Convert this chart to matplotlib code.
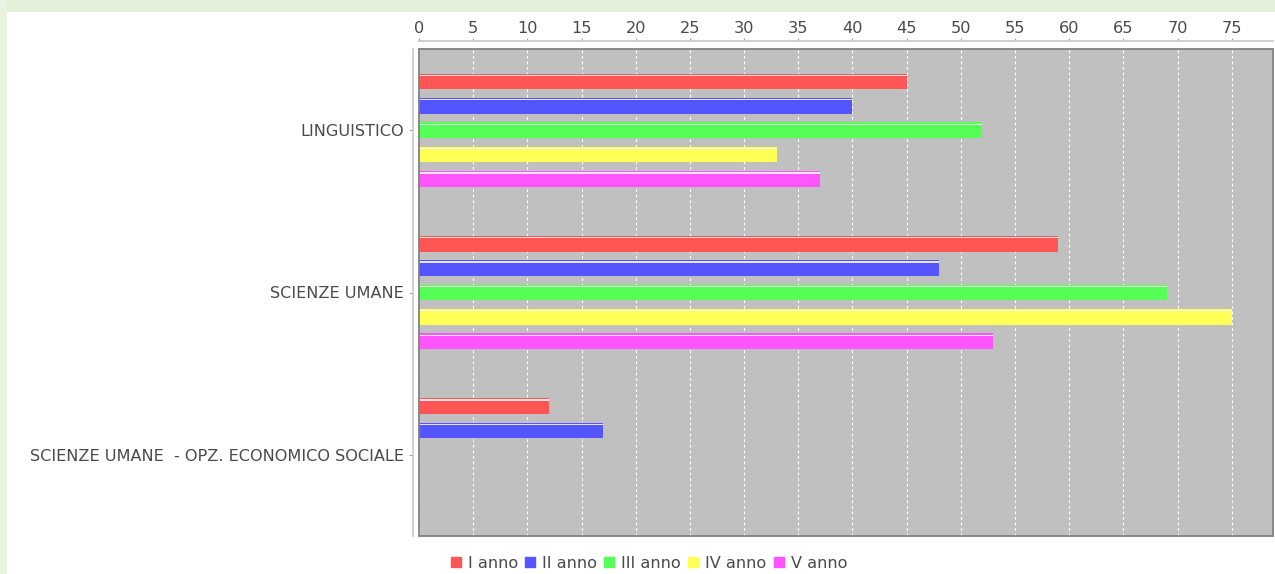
import matplotlib
matplotlib.use("Agg")
import matplotlib.pyplot as plt
import numpy as np
from matplotlib.patches import Rectangle
from matplotlib.lines import Line2D

categories = ["LINGUISTICO", "SCIENZE UMANE", "SCIENZE UMANE  - OPZ. ECONOMICO SOCIALE"]
series_names = ["I anno", "II anno", "III anno", "IV anno", "V anno"]
values = {
    "I anno":   [45, 59, 12],
    "II anno":  [40, 48, 17],
    "III anno": [52, 69, 0],
    "IV anno":  [33, 75, 0],
    "V anno":   [37, 53, 0],
}
series_colors = ["#FF5555", "#5555FF", "#55FF55", "#FFFF55", "#FF55FF"]
xticks = list(range(0, 80, 5))

W, H = 1275, 574
fig = plt.figure(figsize=(W / 100, H / 100), dpi=100)
fig.patch.set_facecolor("white")

# page border (light green)
fig.patches.append(Rectangle((0, 1 - 12 / H), 1, 12 / H, transform=fig.transFigure,
                             facecolor="#E2EFD9", edgecolor="none", zorder=0))
fig.patches.append(Rectangle((0, 0), 7 / W, 1, transform=fig.transFigure,
                             facecolor="#E8F3E0", edgecolor="none", zorder=0))

left, right, top, bottom = 419, 1273, 49, 536
ax = fig.add_axes([left / W, 1 - bottom / H, (right - left) / W, (bottom - top) / H])
ax.set_facecolor("#C0C0C0")

txt_color = "#4A4A4A"
fs = 11.6

n = len(series_names)
step = 0.15
bh = 0.098
y = np.arange(len(categories))
for i, (name, col) in enumerate(zip(series_names, series_colors)):
    off = (i - (n - 1) / 2) * step
    vals = np.array(values[name], dtype=float)
    ax.barh(y + off, vals, height=bh, color=col, linewidth=0, zorder=3)
    # glossy highlight near the top edge
    ax.barh(y + off - bh / 2 + 0.012, vals, height=0.008, color="white",
            alpha=0.85, linewidth=0, zorder=4)

ax.set_xlim(0, (right - left) / 10.836)
ax.set_ylim(len(categories) - 0.5, -0.5)

ax.set_xticks(xticks)
ax.set_xticklabels([str(t) for t in xticks])
ax.xaxis.tick_top()
ax.set_yticks(y)
ax.set_yticklabels(categories)

ax.grid(axis="x", color="white", linestyle=(0, (2.5, 2.5)), linewidth=0.8, zorder=1)
ax.set_axisbelow(True)

for s in ["bottom", "right"]:
    ax.spines[s].set_visible(False)
ax.spines["top"].set_position(("outward", 6))
ax.spines["left"].set_position(("outward", 4))
ax.spines["top"].set_color("#C8C8C8")
ax.spines["left"].set_color("#C8C8C8")
ax.spines["top"].set_linewidth(1.2)
ax.spines["left"].set_linewidth(1.2)

ax.tick_params(axis="x", which="both", length=2.2, width=0.8, color="#A0A0A0",
               pad=1.0, labelsize=fs, labelcolor=txt_color)
ax.tick_params(axis="y", which="both", length=2.8, width=0.8, color="#A0A0A0",
               pad=4, labelsize=fs, labelcolor=txt_color)

# plot frame
ax.add_patch(Rectangle((0, 0), 1, 1, transform=ax.transAxes, fill=False,
                       edgecolor="#808080", linewidth=1.3, zorder=6, clip_on=False))

handles = [Line2D([], [], marker="s", linestyle="none", markersize=7.5,
                  markerfacecolor=c, markeredgecolor=c) for c in series_colors]
fig.legend(handles, series_names, loc="center", ncol=5,
           bbox_to_anchor=(649 / W, 1 - 563 / H), frameon=False,
           handlelength=0.6, handletextpad=0.45, columnspacing=0.45,
           fontsize=fs, labelcolor=txt_color, borderpad=0)

fig.savefig("out.png", dpi=100, facecolor=fig.get_facecolor())
